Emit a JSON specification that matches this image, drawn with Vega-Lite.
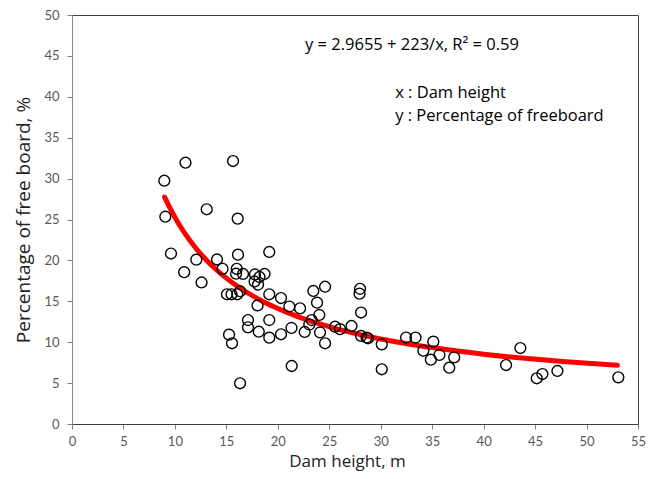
{
  "$schema": "https://vega.github.io/schema/vega-lite/v6.json",
  "autosize": "none",
  "padding": {"left": 72, "top": 15, "right": 10, "bottom": 55},
  "width": 566,
  "height": 409,
  "background": "white",
  "config": {
    "view": {"stroke": "#404040", "strokeWidth": 1},
    "font": "Lato",
    "axis": {"grid": false, "labelFont": "Lato", "titleFont": "Open Sans", "labelColor": "#595959", "labelFontSize": 13, "tickColor": "#808080", "tickSize": 5, "titleFontWeight": "normal", "titleColor": "#222222"}
  },
  "datasets": {
    "pts": [
      {"h": 8.97, "p": 29.74}, {"h": 11.03, "p": 31.94}, {"h": 15.65, "p": 32.15}, {"h": 9.07, "p": 25.34},
      {"h": 13.09, "p": 26.25}, {"h": 16.10, "p": 25.10}, {"h": 9.62, "p": 20.84}, {"h": 12.08, "p": 20.09},
      {"h": 14.09, "p": 20.11}, {"h": 16.13, "p": 20.70}, {"h": 10.90, "p": 18.56}, {"h": 14.63, "p": 18.97},
      {"h": 12.59, "p": 17.30}, {"h": 16.01, "p": 18.97}, {"h": 15.94, "p": 18.37}, {"h": 16.62, "p": 18.34},
      {"h": 17.78, "p": 18.28}, {"h": 18.22, "p": 17.97}, {"h": 18.71, "p": 18.34}, {"h": 17.74, "p": 17.42},
      {"h": 18.08, "p": 17.05}, {"h": 19.17, "p": 21.03}, {"h": 15.06, "p": 15.86}, {"h": 15.50, "p": 15.86},
      {"h": 16.06, "p": 15.86}, {"h": 16.33, "p": 16.23}, {"h": 18.03, "p": 14.49}, {"h": 19.17, "p": 15.86},
      {"h": 20.31, "p": 15.40}, {"h": 21.12, "p": 14.36}, {"h": 22.16, "p": 14.14}, {"h": 23.45, "p": 16.26},
      {"h": 24.59, "p": 16.78}, {"h": 23.81, "p": 14.83}, {"h": 24.03, "p": 13.33}, {"h": 23.29, "p": 12.71},
      {"h": 23.06, "p": 12.16}, {"h": 24.10, "p": 11.19}, {"h": 24.59, "p": 9.87}, {"h": 17.10, "p": 12.71},
      {"h": 17.10, "p": 11.82}, {"h": 18.15, "p": 11.28}, {"h": 19.17, "p": 12.71}, {"h": 19.17, "p": 10.55},
      {"h": 20.31, "p": 10.97}, {"h": 21.33, "p": 11.74}, {"h": 22.61, "p": 11.25}, {"h": 15.26, "p": 10.92},
      {"h": 15.55, "p": 9.87}, {"h": 21.35, "p": 7.09}, {"h": 16.33, "p": 4.98}, {"h": 27.99, "p": 16.53},
      {"h": 27.94, "p": 15.93}, {"h": 28.09, "p": 13.63}, {"h": 25.56, "p": 11.89}, {"h": 26.04, "p": 11.59},
      {"h": 27.16, "p": 11.98}, {"h": 28.09, "p": 10.76}, {"h": 28.62, "p": 10.57}, {"h": 28.77, "p": 10.48},
      {"h": 30.10, "p": 9.74}, {"h": 30.10, "p": 6.69}, {"h": 32.46, "p": 10.57}, {"h": 33.38, "p": 10.57},
      {"h": 35.11, "p": 10.06}, {"h": 34.14, "p": 8.96}, {"h": 34.87, "p": 7.86}, {"h": 35.70, "p": 8.44},
      {"h": 37.14, "p": 8.15}, {"h": 36.66, "p": 6.88}, {"h": 42.18, "p": 7.21}, {"h": 43.57, "p": 9.29},
      {"h": 45.16, "p": 5.59}, {"h": 45.71, "p": 6.11}, {"h": 47.17, "p": 6.48}, {"h": 53.09, "p": 5.71}
    ],
    "fit": [
      {"h": 9, "p": 27.74}, {"h": 9.5, "p": 26.44}, {"h": 10, "p": 25.27}, {"h": 10.5, "p": 24.20},
      {"h": 11, "p": 23.24}, {"h": 12, "p": 21.55}, {"h": 13, "p": 20.12}, {"h": 14, "p": 18.89},
      {"h": 15, "p": 17.83}, {"h": 16, "p": 16.90}, {"h": 18, "p": 15.35}, {"h": 20, "p": 14.12},
      {"h": 22, "p": 13.10}, {"h": 24, "p": 12.26}, {"h": 26, "p": 11.54}, {"h": 28, "p": 10.93},
      {"h": 30, "p": 10.40}, {"h": 33, "p": 9.72}, {"h": 36, "p": 9.16}, {"h": 40, "p": 8.54},
      {"h": 44, "p": 8.03}, {"h": 48, "p": 7.61}, {"h": 53, "p": 7.17}
    ],
    "notes": [
      {"h": 22.64, "p": 46.3, "t": "y = 2.9655 + 223/x, R² = 0.59"},
      {"h": 31.4, "p": 40.46, "t": "x : Dam height"},
      {"h": 31.4, "p": 37.65, "t": "y : Percentage of freeboard"}
    ]
  },
  "encoding": {
    "x": {"field": "h", "type": "quantitative", "scale": {"domain": [0, 55], "nice": false, "zero": false},
      "axis": {"values": [0,5,10,15,20,25,30,35,40,45,50,55], "title": "Dam height, m", "titleFontSize": 17, "titlePadding": 5, "titleX": 275, "labelPadding": 6, "domainColor": "#404040", "labelFlush": false}},
    "y": {"field": "p", "type": "quantitative", "scale": {"domain": [0, 50], "nice": false, "zero": false},
      "axis": {"values": [0,5,10,15,20,25,30,35,40,45,50], "title": "Percentage of free board, %", "titleFontSize": 19, "titlePadding": 10, "labelPadding": 8, "domainColor": "#888888", "labelFlush": false}}
  },
  "layer": [
    {"data": {"name": "fit"}, "mark": {"type": "line", "color": "#ff0000", "strokeWidth": 5, "interpolate": "monotone", "strokeCap": "round"}},
    {"data": {"name": "pts"}, "mark": {"type": "point", "shape": "circle", "filled": false, "stroke": "#000000", "strokeWidth": 1.4, "size": 118, "opacity": 1}},
    {"data": {"name": "notes"}, "mark": {"type": "text", "align": "left", "baseline": "middle", "fontSize": 16.5, "font": "Open Sans", "color": "#000000"},
      "encoding": {"text": {"field": "t"}}}
  ]
}
